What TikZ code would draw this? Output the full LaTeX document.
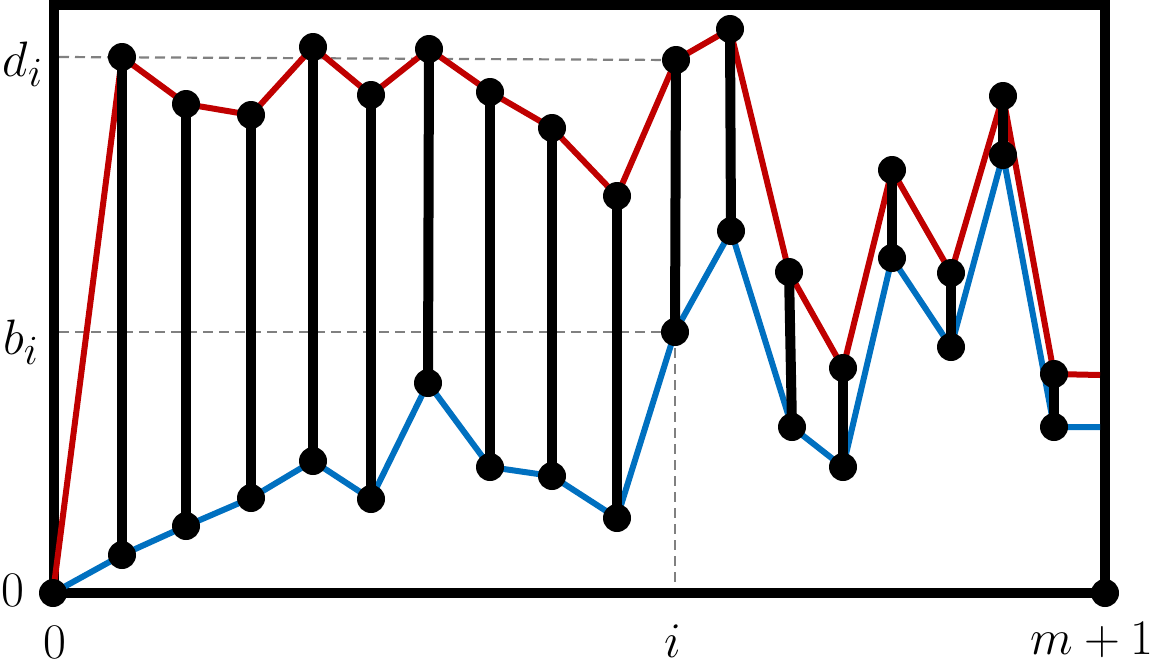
\documentclass[tikz,border=0pt]{standalone}
\usepackage{fontspec}
\definecolor{myred}{HTML}{C00000}
\definecolor{myblue}{HTML}{0070C0}
\definecolor{mygray}{HTML}{808080}
\begin{document}
\begin{tikzpicture}[x=0.5pt,y=-0.5pt,
  dot/.style={circle,fill=black,draw=none,inner sep=0pt,minimum size=14pt},
  upper/.style={draw=myred,line width=3pt,line join=round},
  lower/.style={draw=myblue,line width=3pt,line join=round},
  bar/.style={draw=black,line width=5pt},
  frame/.style={draw=black,line width=5pt},
  guide/.style={draw=mygray,line width=1.1pt,dash pattern=on 5pt off 3pt},
  lab/.style={inner sep=0pt,font=\fontsize{31}{34}\selectfont}]
\useasboundingbox (0,0) rectangle (1167,665);
% coordinates
\coordinate (o) at (53,593);
\coordinate (c) at (1105,593);
\coordinate (t1) at (122,57);   \coordinate (b1) at (122,555);
\coordinate (t2) at (186,104);  \coordinate (b2) at (186,526);
\coordinate (t3) at (251,115);  \coordinate (b3) at (251,498);
\coordinate (t4) at (313,47);   \coordinate (b4) at (313,461);
\coordinate (t5) at (371,95);   \coordinate (b5) at (371,499);
\coordinate (t6) at (429,49);   \coordinate (b6) at (428,383);
\coordinate (t7) at (490,92);   \coordinate (b7) at (490,467);
\coordinate (t8) at (552,128);  \coordinate (b8) at (552,476);
\coordinate (t9) at (617,196);  \coordinate (b9) at (617,518);
\coordinate (t10) at (676,60);  \coordinate (b10) at (675,332);
\coordinate (t11) at (730,29);  \coordinate (b11) at (731,231);
\coordinate (t12) at (789,272); \coordinate (b12) at (792,427);
\coordinate (t13) at (843,368); \coordinate (b13) at (843,467);
\coordinate (t14) at (892,170); \coordinate (b14) at (892,258);
\coordinate (t15) at (951,273); \coordinate (b15) at (951,347);
\coordinate (t16) at (1003,96); \coordinate (b16) at (1003,155);
\coordinate (t17) at (1054,374);\coordinate (b17) at (1054,427);
\coordinate (te) at (1100,375); \coordinate (be) at (1100,427);
\coordinate (fl) at (59,57);    \coordinate (gl) at (59,332);
\coordinate (ib) at (675,588);
% guides
\draw[guide] (fl) -- (t10);
\draw[guide] (gl) -- (b10);
\draw[guide] (b10) -- (ib);
% frame
\draw[frame] (54,5) rectangle (1105,593);
% paths
\draw[upper] (o) -- (t1) -- (t2) -- (t3) -- (t4) -- (t5) -- (t6) -- (t7) -- (t8) -- (t9) -- (t10) -- (t11) -- (t12) -- (t13) -- (t14) -- (t15) -- (t16) -- (t17) -- (te);
\draw[lower] (o) -- (b1) -- (b2) -- (b3) -- (b4) -- (b5) -- (b6) -- (b7) -- (b8) -- (b9) -- (b10) -- (b11) -- (b12) -- (b13) -- (b14) -- (b15) -- (b16) -- (b17) -- (be);
% bars
\foreach \k in {1,...,17} { \draw[bar] (t\k) -- (b\k); }
% dots
\node[dot] (O) at (o) {};
\node[dot] (C) at (c) {};
\foreach \k in {1,...,17} {
  \node[dot] (T\k) at (t\k) {};
  \node[dot] (B\k) at (b\k) {};
}
% labels
\node[lab] (ld) at (23,64) {$d_i$};
\node[lab] (lb) at (21,342) {$b_i$};
\node[lab] (l0y) at (13,590) {$0$};
\node[lab] (l0x) at (55,642) {$0$};
\node[lab] (li) at (673,641) {$i$};
\node[lab] (lm) at (1092,640) {$m+1$};
\end{tikzpicture}
\end{document}
